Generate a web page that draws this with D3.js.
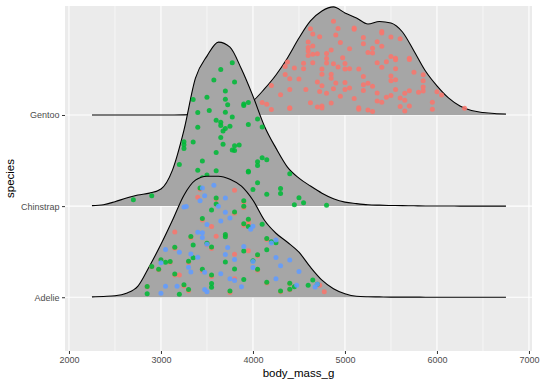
<!DOCTYPE html>
<html>
<head>
<script src="https://d3js.org/d3.v7.min.js"></script>
<style>
  body { margin: 0; background: #fff; }
  text { font-family: "Liberation Sans", Arial, sans-serif; }
</style>
</head>
<body>
<div id="chart"></div>
<script>
// categories
const species = ["Adelie", "Chinstrap", "Gentoo"];
const islands = ["Biscoe", "Dream", "Torgersen"];
const islandColors = { Biscoe: "#F8766D", Dream: "#00BA38", Torgersen: "#619CFF" };
const xTicks = [2000, 3000, 4000, 5000, 6000, 7000];
const xMinor = [2500, 3500, 4500, 5500, 6500];

// body mass grid for the density ridges (g)
const massGrid = [2250, 2375, 2500, 2625, 2750, 2875, 3000, 3125, 3250, 3375, 3500, 3625, 3750,
  3875, 4000, 4125, 4250, 4375, 4500, 4625, 4750, 4875, 5000, 5125, 5250, 5375, 5500, 5625,
  5750, 5875, 6000, 6125, 6250, 6375, 6500, 6625, 6750];

// kernel densities (x 1e-4 per g)
const adelieDensity = [0.02, 0.05, 0.09, 0.25, 0.70, 1.96, 3.35, 4.87, 6.46, 7.41, 7.66, 7.66, 7.47,
  7.03, 6.14, 4.87, 4.05, 3.48, 2.85, 1.90, 1.08, 0.54, 0.22, 0.06, 0.03, 0.02, 0.01, 0.01,
  0.01, 0, 0, 0, 0, 0, 0, 0, 0];
const chinstrapDensity = [0.03, 0.09, 0.28, 0.51, 0.70, 0.82, 1.08, 2.28, 4.81, 8.10, 9.49, 10.38, 10.06,
  8.67, 6.96, 5.06, 3.67, 2.47, 1.77, 1.27, 0.82, 0.47, 0.25, 0.16, 0.09, 0.06, 0.04, 0.03,
  0.02, 0.01, 0.01, 0.01, 0, 0, 0, 0, 0];
const gentooDensity = [0, 0, 0, 0, 0, 0, 0, 0, 0.01, 0.03, 0.06, 0.13, 0.25,
  0.51, 0.89, 1.65, 2.53, 3.61, 4.87, 5.95, 6.58, 6.84, 6.46, 6.14, 5.76, 5.92, 5.82, 5.25,
  4.05, 2.78, 1.84, 1.08, 0.57, 0.28, 0.16, 0.09, 0.06];

// body_mass_g of the individual penguins, by species and island
const adelieBiscoe = [3400, 3600, 3800, 3950, 3800, 3800, 3550, 3200, 3150, 3950, 3250, 3900, 3300,
  3900, 3325, 4150, 3950, 3550, 3300, 4725, 3150, 3900, 3100, 4400, 3000, 4775, 3425, 2975, 3450,
  4150, 3500, 4300, 3450, 4050, 2900, 3700, 3550, 3800, 2850, 3750, 3150, 4400, 3600, 4050];
const adelieDream = [3250, 3900, 3300, 3900, 3325, 4150, 3950, 3550, 3300, 4650, 3150, 3900, 3100,
  4400, 3000, 4600, 3425, 2975, 3450, 4150, 3500, 4300, 3450, 4050, 2900, 3700, 3550, 3800, 2850,
  3750, 3150, 4400, 3600, 4050, 2850, 3950, 3350, 4100, 3050, 4450, 3600, 3900, 3550, 4150, 3700,
  4250, 3700, 3900, 3550, 4000, 3200, 4700, 3800, 4200, 3350, 3550];
const adelieTorgersen = [3750, 3800, 3250, 3450, 3650, 3625, 4675, 3475, 4250, 3300, 3700, 3200, 3800,
  4400, 3700, 3450, 4500, 3325, 4200, 3500, 3875, 3000, 4000, 3275, 4300, 3050, 4000, 3325, 3500,
  3500, 4475, 3425, 3900, 3175, 3975, 3400, 4250, 3400, 3475, 3050, 3725, 3000, 3650, 4250, 3475,
  3450, 3750, 3700, 4000, 3575, 4700];
const chinstrapDream = [3500, 3900, 3650, 3525, 3725, 3950, 3250, 3750, 4150, 3700, 3800, 3775, 3700,
  4050, 3575, 4050, 3300, 3700, 3450, 4400, 3600, 3400, 2900, 3800, 3300, 4150, 3400, 3800, 3700,
  4550, 3200, 4300, 3350, 4100, 3600, 3900, 3850, 4800, 2700, 4500, 3950, 3650, 3550, 3500, 3675,
  4450, 3400, 4300, 3250, 3675, 3325, 3950, 3600, 4050, 3350, 3450, 3250, 4050, 3800, 3525, 3950,
  3650, 3650, 4000, 3400, 3775, 4100, 3775];
const gentooBiscoe = [4500, 5700, 4450, 5700, 5400, 4550, 4800, 5200, 4400, 5150, 4650, 5550, 4650,
  5850, 4200, 5850, 4150, 6300, 4800, 5350, 5700, 5000, 4400, 5050, 5000, 5100, 4100, 5650, 4600,
  5550, 5250, 4700, 5050, 6050, 5150, 5400, 4950, 5250, 4350, 5350, 3950, 5700, 4300, 4750, 5550,
  4900, 4200, 5400, 5100, 5300, 4850, 5300, 4400, 5000, 4600, 5050, 4400, 5300, 4700, 5100, 4650,
  5600, 4350, 5200, 4750, 5550, 4750, 5850, 4800, 5350, 4600, 5950, 4625, 5450, 4725, 5350, 4750,
  5600, 4600, 5300, 4875, 5550, 4950, 5400, 4750, 5650, 4850, 5200, 4925, 4875, 4625, 5250, 4850,
  5600, 4975, 5500, 4725, 5500, 4700, 5500, 4575, 5500, 5000, 5950, 4650, 5500, 4375, 5850, 4875,
  6000, 4925, 4850, 5750, 5200, 5400, 4800, 5450, 4900, 5800, 5150, 4550, 5650, 5200];

const ridges = [
  { species: "Adelie", density: adelieDensity,
    groups: [["Biscoe", adelieBiscoe], ["Dream", adelieDream], ["Torgersen", adelieTorgersen]] },
  { species: "Chinstrap", density: chinstrapDensity, groups: [["Dream", chinstrapDream]] },
  { species: "Gentoo", density: gentooDensity, groups: [["Biscoe", gentooBiscoe]] }
];

const W = 540, H = 386;
const panel = { left: 65, right: 532, top: 6, bottom: 351 };

const svg = d3.select("#chart").append("svg")
  .attr("width", W).attr("height", H);

const x = d3.scaleLinear().domain([1957, 7033]).range([panel.left, panel.right]);
const y = d3.scaleLinear().domain([0.41, 4.196]).range([panel.bottom, panel.top]);
// tallest ridge reaches 1.8 rows above its baseline
const ridgeScale = 1.8 / d3.max(ridges, r => d3.max(r.density));

// panel + grid
svg.append("rect")
  .attr("x", panel.left).attr("y", panel.top)
  .attr("width", panel.right - panel.left).attr("height", panel.bottom - panel.top)
  .attr("fill", "#EBEBEB");

svg.append("g").selectAll("line").data(xMinor).join("line")
  .attr("x1", d => x(d)).attr("x2", d => x(d))
  .attr("y1", panel.top).attr("y2", panel.bottom)
  .attr("stroke", "#fff").attr("stroke-width", 0.55);
svg.append("g").selectAll("line").data(xTicks).join("line")
  .attr("x1", d => x(d)).attr("x2", d => x(d))
  .attr("y1", panel.top).attr("y2", panel.bottom)
  .attr("stroke", "#fff").attr("stroke-width", 1.1);
svg.append("g").selectAll("line").data(species).join("line")
  .attr("x1", panel.left).attr("x2", panel.right)
  .attr("y1", (d, i) => y(i + 1)).attr("y2", (d, i) => y(i + 1))
  .attr("stroke", "#fff").attr("stroke-width", 1.1);

// ridges, top row first so lower ridges overlap the ones above
const ridgeOrder = ridges.slice().reverse();
ridgeOrder.forEach(r => {
  const base = species.indexOf(r.species) + 1;
  const pts = massGrid.map((m, i) => [m, r.density[i]]);
  const g = svg.append("g");

  g.append("path")
    .datum(pts)
    .attr("fill", "#A6A6A6")
    .attr("d", d3.area()
      .x(d => x(d[0]))
      .y0(y(base))
      .y1(d => y(base + d[1] * ridgeScale))
      .curve(d3.curveMonotoneX));

  g.append("path")
    .datum(pts)
    .attr("fill", "none")
    .attr("stroke", "#000")
    .attr("stroke-width", 1.1)
    .attr("d", d3.line()
      .x(d => x(d[0]))
      .y(d => y(base + d[1] * ridgeScale))
      .curve(d3.curveMonotoneX));

  // points spread vertically under the ridge (sina-style); deterministic jitter
  const heightAt = d3.scaleLinear().domain(massGrid).range(r.density).clamp(true);
  let k = 0;
  r.groups.forEach(([island, values]) => {
    const dots = values.map(v => {
      k += 1;
      const u = 0.03 + 0.9 * ((k * 0.6180339887 + base * 0.29) % 1);
      return { m: v, island, u };
    });
    g.append("g").selectAll("circle").data(dots).join("circle")
      .attr("cx", d => x(d.m))
      .attr("cy", d => y(base + d.u * heightAt(d.m) * ridgeScale))
      .attr("r", 2.5)
      .attr("fill", d => islandColors[d.island])
      .attr("fill-opacity", 0.88);
  });
});

// axes
const xAxis = svg.append("g")
  .attr("transform", `translate(0,${panel.bottom})`)
  .call(d3.axisBottom(x).tickValues(xTicks).tickSize(3).tickPadding(3).tickFormat(d3.format("d")));
const yAxis = svg.append("g")
  .attr("transform", `translate(${panel.left},0)`)
  .call(d3.axisLeft(y).tickValues([1, 2, 3]).tickSize(3).tickPadding(2.5)
    .tickFormat(d => species[d - 1]));

[xAxis, yAxis].forEach(a => {
  a.select(".domain").remove();
  a.selectAll(".tick line").attr("stroke", "#333").attr("stroke-width", 1);
  a.selectAll(".tick text")
    .attr("fill", "#4D4D4D")
    .style("font-size", "9px")
    .style("font-family", "'Liberation Sans', Arial, sans-serif");
});

svg.append("text")
  .attr("x", (panel.left + panel.right) / 2)
  .attr("y", 377)
  .attr("text-anchor", "middle")
  .style("font-size", "11.5px")
  .text("body_mass_g");

svg.append("text")
  .attr("transform", `translate(14,${(panel.top + panel.bottom) / 2}) rotate(-90)`)
  .attr("text-anchor", "middle")
  .style("font-size", "11.5px")
  .text("species");
</script>
</body>
</html>
